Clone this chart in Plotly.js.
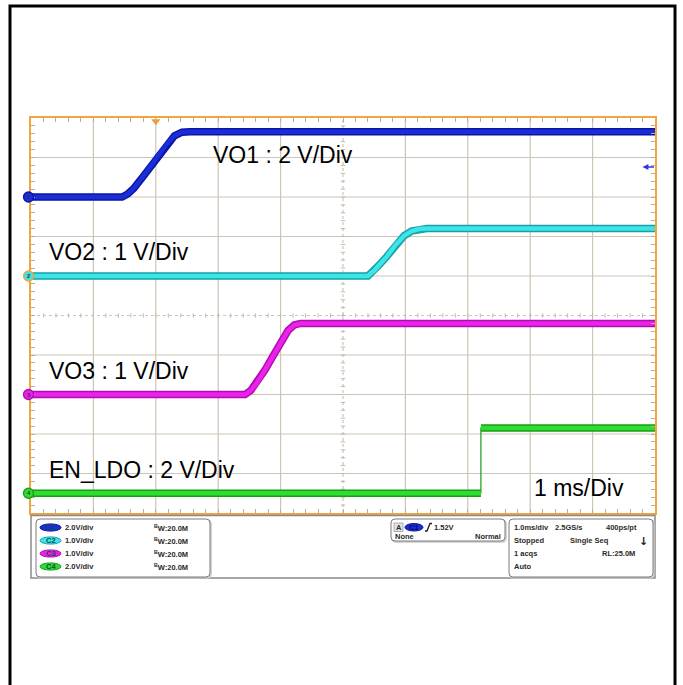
<!DOCTYPE html>
<html><head><meta charset="utf-8">
<script src="https://cdn.plot.ly/plotly-3.0.1.min.js"></script>
<style>html,body{margin:0;padding:0;background:#fff;}#chart{width:683px;height:685px;}</style>
</head><body><div id="chart"></div>
<script>
// ---- data (time in ms, volts) ----
const timeVO1 = [0, 1.46, 1.55, 1.65, 1.80, 2.00, 2.18, 2.30, 2.42, 2.55, 10];
const voltVO1 = [0, 0, 0.15, 0.45, 1.05, 1.90, 2.70, 3.10, 3.28, 3.30, 3.30];
const timeVO2 = [0, 5.40, 5.45, 5.50, 5.58, 5.70, 5.85, 5.98, 6.10, 6.22, 6.34, 10];
const voltVO2 = [0, 0, 0.08, 0.14, 0.28, 0.49, 0.80, 1.02, 1.14, 1.19, 1.20, 1.20];
const timeVO3 = [0, 3.43, 3.52, 3.62, 3.75, 3.88, 4.00, 4.12, 4.22, 4.32, 10];
const voltVO3 = [0, 0, 0.10, 0.30, 0.62, 0.98, 1.33, 1.62, 1.76, 1.80, 1.80];
const timeEN  = [0, 7.21, 7.21, 10];
const voltEN  = [0, 0, 3.30, 3.30];

const channelNames  = ['C1', 'C2', 'C3', 'C4'];
const channelNums   = ['1', '2', '3', '4'];
const voltsPerDiv   = [2, 1, 1, 2];
const offsetDiv     = [8, 6, 3, 0.5];
const scaleLabels   = ['2.0V/div', '1.0V/div', '1.0V/div', '2.0V/div'];
const bwLabel       = '20.0M';
const traceLabels   = ['VO1 : 2 V/Div', 'VO2 : 1 V/Div', 'VO3 : 1 V/Div', 'EN_LDO : 2 V/Div'];
const timeLabel     = '1 ms/Div';
const triggerTime   = 2.0;
const triggerLevel  = 1.52;
const infoRows = {
  r1: ['1.0ms/div', '2.5GS/s', '400ps/pt'],
  r2: ['Stopped', 'Single Seq'],
  r3: ['1 acqs', 'RL:25.0M'],
  r4: ['Auto']
};
const trigText = ['1.52V', 'None', 'Normal'];

// ---- styling ----
const topColors   = ['#1a2ed8', '#3fe4e6', '#ea22ea', '#2fdc2f'];
const underColors = ['#0c15a8', '#15a2a8', '#b00cb0', '#14a014'];
const markerRing  = ['#0c15a8', '#f3a53c', '#b00cb0', '#14a014'];
const FONT = 'Liberation Sans, Arial, sans-serif';

const W = 683, H = 685, L = 31, R = 655, T = 118, B = 513;
const PX = x => (x - L) / (R - L);
const PY = y => (B - y) / (B - T);
const DIVPX = (B - T) / 10;

const times = [timeVO1, timeVO2, timeVO3, timeEN];
const volts = [voltVO1, voltVO2, voltVO3, voltEN];

const traces = [];
function toDiv(i) { return volts[i].map(v => offsetDiv[i] + v / voltsPerDiv[i]); }
// thick bands: break at perfectly vertical edges (fast steps drawn thin)
function bandXY(i) {
  const t = times[i], y = toDiv(i), xs = [], ys = [];
  for (let k = 0; k < t.length; k++) {
    if (k > 0 && t[k] === t[k - 1]) { xs.push(null); ys.push(null); }
    xs.push(t[k]); ys.push(y[k]);
  }
  return [xs, ys];
}
for (let i = 0; i < 4; i++) {
  const [xs, ys] = bandXY(i);
  traces.push({x: times[i], y: toDiv(i), mode: 'lines', line: {color: underColors[i], width: 1.2}, hoverinfo: 'skip'});
  traces.push({x: xs, y: ys, mode: 'lines', line: {color: underColors[i], width: 7.5}, hoverinfo: 'skip', connectgaps: false});
  traces.push({x: xs, y: ys, mode: 'lines', line: {color: topColors[i], width: 4.5}, hoverinfo: 'skip', connectgaps: false});
}
// trigger position marker
traces.push({x: [triggerTime], y: [9.92], mode: 'markers', cliponaxis: false,
  marker: {symbol: 'triangle-down', size: 8, color: '#f39a2c'}, hoverinfo: 'skip'});

// ---- shapes ----
const shapes = [];
const annotations = [];
const gridCol = '#cdc5b5';
for (let i = 1; i < 10; i++) {
  const center = i === 5;
  shapes.push({type: 'line', xref: 'x', yref: 'paper', x0: i, x1: i, y0: 0, y1: 1, layer: 'below',
    line: {color: gridCol, width: 1.2, dash: center ? 'dot' : 'solid'}});
  shapes.push({type: 'line', xref: 'paper', yref: 'y', x0: 0, x1: 1, y0: i, y1: i, layer: 'below',
    line: {color: gridCol, width: 1.2, dash: center ? 'dot' : 'solid'}});
}
for (let k = 1; k < 50; k++) {
  const v = k * 0.2;
  shapes.push({type: 'line', xref: 'x', yref: 'y', x0: 5 - 0.035, x1: 5 + 0.035, y0: v, y1: v, layer: 'below', line: {color: '#c2baaa', width: 1}});
  shapes.push({type: 'line', xref: 'x', yref: 'y', x0: v, x1: v, y0: 5 - 0.055, y1: 5 + 0.055, layer: 'below', line: {color: '#c2baaa', width: 1}});
}
// channel ground markers (on top of the border)
const mr = 5 / DIVPX;
offsetDiv.forEach((o, i) => {
  shapes.push({type: 'circle', xref: 'paper', yref: 'y', x0: PX(23.5), x1: PX(33.5), y0: o - mr, y1: o + mr,
    layer: 'above', line: {color: markerRing[i], width: 1.3}, fillcolor: topColors[i]});
  annotations.push({xref: 'paper', yref: 'y', x: PX(28.5), y: o, text: '<b>' + channelNums[i] + '</b>', showarrow: false,
    xanchor: 'center', yanchor: 'middle', font: {family: FONT, size: 6, color: '#333'}, borderpad: 0});
});
// outer frame
shapes.push({type: 'rect', xref: 'paper', yref: 'paper', x0: PX(10), x1: PX(675), y0: PY(6), y1: PY(700),
  line: {color: '#000', width: 3}, fillcolor: 'rgba(0,0,0,0)'});
// info panel
function rrect(x0, y0, x1, y1, r) {
  const p = (x, y) => PX(x) + ',' + PY(y);
  return 'M' + p(x0 + r, y0) + ' L' + p(x1 - r, y0) + ' Q' + p(x1, y0) + ' ' + p(x1, y0 + r) +
    ' L' + p(x1, y1 - r) + ' Q' + p(x1, y1) + ' ' + p(x1 - r, y1) + ' L' + p(x0 + r, y1) +
    ' Q' + p(x0, y1) + ' ' + p(x0, y1 - r) + ' L' + p(x0, y0 + r) + ' Q' + p(x0, y0) + ' ' + p(x0 + r, y0) + ' Z';
}
shapes.push({type: 'rect', xref: 'paper', yref: 'paper', x0: PX(31), x1: PX(655), y0: PY(515.5), y1: PY(578),
  line: {color: '#8a8a8a', width: 1.5}, fillcolor: '#fff'});
[[36, 519, 210, 577], [391, 519, 505, 541], [509, 519, 653, 577]].forEach(b => {
  shapes.push({type: 'path', xref: 'paper', yref: 'paper', path: rrect(b[0] + 1, b[1] + 1, b[2] + 1, b[3] + 1, 4),
    line: {color: '#c8c8c8', width: 1.5}, fillcolor: 'rgba(0,0,0,0)'});
  shapes.push({type: 'path', xref: 'paper', yref: 'paper', path: rrect(b[0], b[1], b[2], b[3], 4),
    line: {color: '#7a7a7a', width: 1}, fillcolor: '#fff'});
});
const rowY = [527.5, 540.5, 553.5, 566.5];
const small = (txt, x, y, anchor, col) => annotations.push({xref: 'paper', yref: 'paper', x: PX(x), y: PY(y),
  text: '<b>' + txt + '</b>', showarrow: false, xanchor: anchor || 'left', yanchor: 'middle',
  font: {family: FONT, size: 7.5, color: col || '#2a2a2a'}, borderpad: 0});
for (let i = 0; i < 4; i++) {
  shapes.push({type: 'circle', xref: 'paper', yref: 'paper', x0: PX(40), x1: PX(61), y0: PY(rowY[i] - 3.6), y1: PY(rowY[i] + 3.6),
    line: {color: underColors[i], width: 1}, fillcolor: topColors[i]});
  small(channelNames[i], 50.5, rowY[i], 'center', '#0b4b4b');
  small(scaleLabels[i], 64, rowY[i]);
  small('<sup>B</sup>W:' + bwLabel, 153, rowY[i]);
}
// trigger box
shapes.push({type: 'rect', xref: 'paper', yref: 'paper', x0: PX(394), x1: PX(403), y0: PY(523), y1: PY(531.5),
  line: {color: '#999', width: 0.8}, fillcolor: '#e6e6e6'});
small('A', 398.5, 527.3, 'center');
shapes.push({type: 'circle', xref: 'paper', yref: 'paper', x0: PX(405), x1: PX(423), y0: PY(523.5), y1: PY(531),
  line: {color: underColors[0], width: 1}, fillcolor: topColors[0]});
small(channelNames[0], 414, 527.3, 'center', '#0b0b5b');
shapes.push({type: 'path', xref: 'paper', yref: 'paper',
  path: 'M' + PX(425) + ',' + PY(531) + ' L' + PX(427) + ',' + PY(531) + ' L' + PX(430) + ',' + PY(523.5) + ' L' + PX(432) + ',' + PY(523.5),
  line: {color: '#222', width: 1.3}});
small(trigText[0], 433, 527.3);
small(trigText[1], 394, 536.5);
small(trigText[2], 502, 536.5, 'right');
// timebase box
small(infoRows.r1[0], 513, rowY[0]); small(infoRows.r1[1], 554, rowY[0]); small(infoRows.r1[2], 638, rowY[0], 'right');
small(infoRows.r2[0], 513, rowY[1]); small(infoRows.r2[1], 569, rowY[1]);
annotations.push({xref: 'paper', yref: 'paper', x: PX(643.5), y: PY(rowY[1] + 1), text: '<b>↓</b>', showarrow: false,
  font: {family: 'DejaVu Sans', size: 11, color: '#222'}, xanchor: 'center', yanchor: 'middle'});
small(infoRows.r3[0], 513, rowY[2]); small(infoRows.r3[1], 636, rowY[2], 'right');
small(infoRows.r4[0], 513, rowY[3]);

// big labels
const labelPos = [[211, 154.7], [47, 251.7], [47, 370.5], [47, 470]];
traceLabels.forEach((t, i) => annotations.push({xref: 'paper', yref: 'paper', x: PX(labelPos[i][0]), y: PY(labelPos[i][1]),
  text: t, showarrow: false, xanchor: 'left', yanchor: 'middle', font: {family: FONT, size: 23, color: '#000'}}));
annotations.push({xref: 'paper', yref: 'paper', x: PX(532), y: PY(488.3), text: timeLabel, showarrow: false,
  xanchor: 'left', yanchor: 'middle', font: {family: FONT, size: 23, color: '#000'}});
// trigger level arrow (C1)
const trigDiv = offsetDiv[0] + triggerLevel / voltsPerDiv[0];
annotations.push({xref: 'x', yref: 'y', x: 9.8, y: trigDiv, ax: 13, ay: 0, text: '', showarrow: true,
  arrowhead: 2, arrowsize: 0.9, arrowwidth: 1.3, arrowcolor: '#2a3ae0'});

const axisCommon = {range: [0, 10], showgrid: false, zeroline: false, showticklabels: false,
  ticks: 'inside', ticklen: 4, tickwidth: 1, tickcolor: '#b5ad9d', dtick: 0.2, tick0: 0,
  showline: true, linecolor: '#f3a53c', linewidth: 2, mirror: 'ticks', fixedrange: true};

const layout = {
  width: W, height: H, margin: {l: L, r: W - R, t: T, b: H - B},
  paper_bgcolor: '#fff', plot_bgcolor: '#fff', showlegend: false,
  xaxis: Object.assign({}, axisCommon),
  yaxis: Object.assign({}, axisCommon),
  shapes: shapes, annotations: annotations
};
Plotly.newPlot('chart', traces, layout, {staticPlot: true, displayModeBar: false});
</script></body></html>
